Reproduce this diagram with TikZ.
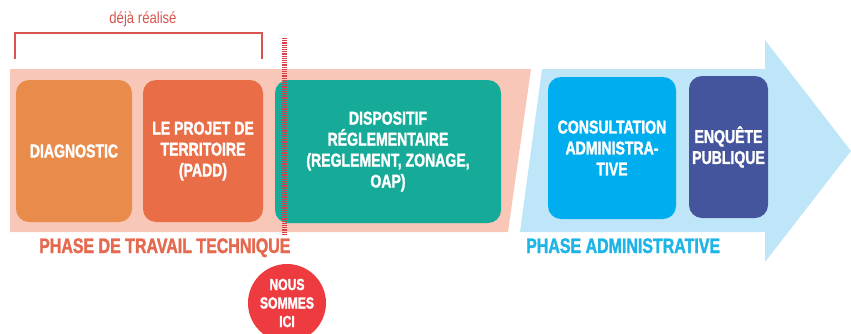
\documentclass[tikz,border=0pt]{standalone}
\usepackage{fontspec}
\setmainfont{Liberation Sans}[FakeStretch=0.82]
\newfontfamily\condbold{Liberation Sans Bold}[FakeStretch=0.76, FakeBold=1.6]
\definecolor{bandsalmon}{HTML}{F8C7B8}
\definecolor{bandblue}{HTML}{BEE6F8}
\definecolor{diagc}{HTML}{E98C4B}
\definecolor{paddc}{HTML}{E96E48}
\definecolor{tealc}{HTML}{16AA98}
\definecolor{cyanc}{HTML}{00AEEF}
\definecolor{navyc}{HTML}{44559D}
\definecolor{bracketc}{HTML}{D9534F}
\definecolor{dashc}{HTML}{D5404A}
\definecolor{circc}{HTML}{EE3B40}
\definecolor{ph1c}{HTML}{E5684F}
\definecolor{ph2c}{HTML}{1DB4E6}
\begin{document}
\begin{tikzpicture}[x=1pt,y=-1pt,
  stepbox/.style={rounded corners=13pt, inner sep=0pt, text=white, align=center,
    font=\condbold\fontsize{18.5}{21}\selectfont},
  phaselabel/.style={anchor=base west, inner sep=0pt, font=\condbold\fontsize{21}{24}\selectfont},
  bracketline/.style={draw=bracketc, line width=1.2pt},
  herelabel/.style={circle, fill=circc, minimum size=78pt, inner sep=0pt, text=white, align=center,
    font=\condbold\fontsize{16}{18.5}\selectfont}]
\useasboundingbox (0,0) rectangle (851,333);
\clip (0,0) rectangle (851,333);
% phase bands
\fill[bandsalmon] (10,69) -- (531,69) -- (508,232) -- (10,232) -- cycle;
\fill[bandblue] (542,69) -- (765,69) -- (765,40) -- (851,151) -- (765,262) -- (765,232) -- (520,232) -- cycle;
% step boxes
\node[stepbox, fill=diagc, minimum width=116pt, minimum height=142pt] (diag) at (74,151) {DIAGNOSTIC};
\node[stepbox, fill=paddc, minimum width=120pt, minimum height=142pt] (padd) at (203,151) {LE PROJET DE\\TERRITOIRE\\(PADD)};
\node[stepbox, fill=tealc, minimum width=226pt, minimum height=143pt] (disp) at (388,151.5) {DISPOSITIF\\RÉGLEMENTAIRE\\(REGLEMENT, ZONAGE,\\OAP)};
\node[stepbox, fill=cyanc, minimum width=128pt, minimum height=142pt] (consult) at (612,148) {CONSULTATION\\ADMINISTRA-\\TIVE};
\node[stepbox, fill=navyc, minimum width=79pt, minimum height=142pt] (enquete) at (728.5,147) {ENQUÊTE\\PUBLIQUE};
% bracket
\coordinate (bl) at (15,59);
\coordinate (br) at (262,59);
\coordinate (btl) at (15,33);
\coordinate (btr) at (262,33);
\draw[bracketline] (bl) -- (btl) -- (btr) -- (br);
\node[text=bracketc, font=\fontsize{16}{18}\selectfont, inner sep=0pt] (done) at (143,19) {déjà réalisé};
% current position marker
\coordinate (dtop) at (284,38);
\coordinate (dbot) at (284,234);
\draw[dashc, line width=5pt, dash pattern=on 1.1pt off 1.1pt] (dtop) -- (dbot);
% phase labels
\node[phaselabel, text=ph1c] (ph1) at (39,253) {PHASE DE TRAVAIL TECHNIQUE};
\node[phaselabel, text=ph2c] (ph2) at (526,253) {PHASE ADMINISTRATIVE};
% here marker
\node[herelabel] (ici) at (287,303) {NOUS\\SOMMES\\ICI};
\end{tikzpicture}
\end{document}
